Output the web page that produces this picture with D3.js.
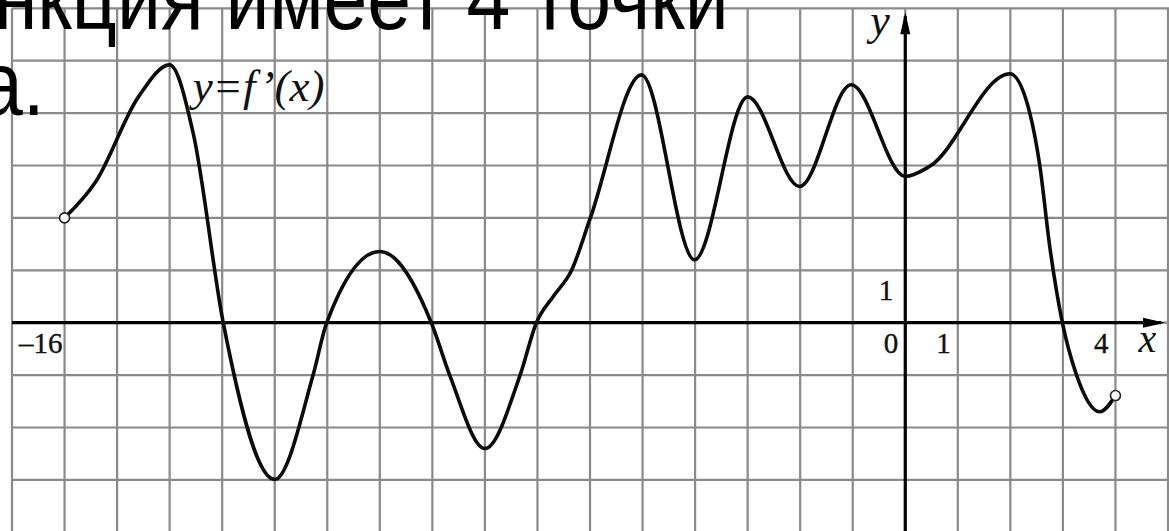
<!DOCTYPE html>
<html>
<head>
<meta charset="utf-8">
<script src="https://cdn.jsdelivr.net/npm/d3@7"></script>
<style>
html, body { margin: 0; padding: 0; background: #fff; overflow: hidden; }
</style>
</head>
<body>
<div id="chart"></div>
<script>
const width = 1169;
const height = 531;

// points of y = f'(x) (extrema, zeros, a few bends)
const xValues = [-16, -15.4, -14.6, -14, -13.55, -12.98, -12, -11.27, -11.01, -10,
	-9.02, -8.67, -8, -7.33, -7.02, -6.7, -6.35, -6, -5.02, -4.01,
	-3, -2.01, -1.03, 0, 0.46, 1.99, 2.37, 2.56, 2.75, 2.99,
	3.26, 3.7, 4];
const yValues = [2.0, 2.7, 4.3, 4.92, 3.61, 0, -2.99, -1.0, 0, 1.36,
	0, -1.0, -2.4, -1.0, 0, 0.5, 1.0, 1.98, 4.73, 1.2,
	4.31, 2.6, 4.54, 2.79, 2.98, 4.75, 4.0, 3.0, 1.45, 0,
	-1.0, -1.7, -1.39];
const openEnds = [0, xValues.length - 1];
const xTickLabels = [-16, 0, 1, 4];
const yTickLabels = [1];
const gridX = d3.range(-17, 6);
const gridY = d3.range(-4, 7);
const headingLines = ["нкция имеет 4 точки", "а."];

const x = d3.scaleLinear().domain([-17, 5]).range([12, 1168]);
const y = d3.scaleLinear().domain([6, -4]).range([8.3, 532.3]);

const svg = d3.select("#chart")
	.append("svg")
	.attr("width", width)
	.attr("height", height)
	.style("display", "block");

svg.append("rect")
	.attr("width", width)
	.attr("height", height)
	.attr("fill", "#fff");

// grid
const grid = svg.append("g").attr("class", "grid")
	.attr("stroke", "#8a8a8a")
	.attr("stroke-width", 2.2);

grid.selectAll(".vx")
	.data(gridX)
	.enter()
	.append("line")
	.attr("x1", d => x(d))
	.attr("x2", d => x(d))
	.attr("y1", y(6))
	.attr("y2", height);

grid.selectAll(".hy")
	.data(gridY)
	.enter()
	.append("line")
	.attr("y1", d => y(d))
	.attr("y2", d => y(d))
	.attr("x1", x(-17))
	.attr("x2", width);

// axes with arrow heads
const axes = svg.append("g").attr("class", "axes");
const xTip = x(5) - 3;
const yTip = y(6) + 4;

axes.append("line")
	.attr("x1", x(-17))
	.attr("x2", xTip - 4)
	.attr("y1", y(0))
	.attr("y2", y(0))
	.attr("stroke", "#000")
	.attr("stroke-width", 3.2);

axes.append("path")
	.attr("d", "M" + xTip + "," + y(0) + " L" + (xTip - 22) + "," + (y(0) - 5) +
		" L" + (xTip - 22) + "," + (y(0) + 5) + " Z")
	.attr("fill", "#000");

axes.append("line")
	.attr("x1", x(0))
	.attr("x2", x(0))
	.attr("y1", height)
	.attr("y2", yTip + 4)
	.attr("stroke", "#000")
	.attr("stroke-width", 3.2);

axes.append("path")
	.attr("d", "M" + x(0) + "," + yTip + " L" + (x(0) - 5) + "," + (yTip + 22) +
		" L" + (x(0) + 5) + "," + (yTip + 22) + " Z")
	.attr("fill", "#000");

// tick labels
const labels = svg.append("g")
	.attr("font-family", "'Liberation Serif', 'Times New Roman', serif")
	.attr("fill", "#111");

labels.selectAll(".xt")
	.data(xTickLabels)
	.enter()
	.append("text")
	.attr("x", d => x(d) - (d < 0 ? 2 : 7))
	.attr("y", y(0) + 30)
	.attr("text-anchor", "end")
	.attr("font-size", 29)
	.attr("stroke", "#111")
	.attr("stroke-width", 0.4)
	.text(d => d < 0 ? "–" + Math.abs(d) : d);

labels.selectAll(".yt")
	.data(yTickLabels)
	.enter()
	.append("text")
	.attr("x", x(0) - 12)
	.attr("y", d => y(d) + 30)
	.attr("text-anchor", "end")
	.attr("font-size", 29)
	.attr("stroke", "#111")
	.attr("stroke-width", 0.4)
	.text(d => d);

labels.append("text")
	.attr("x", x(0) - 35)
	.attr("y", y(6) + 27)
	.attr("font-size", 44)
	.attr("font-style", "italic")
	.text("y");

labels.append("text")
	.attr("x", x(4) + 23)
	.attr("y", y(0) + 29)
	.attr("font-size", 40)
	.attr("font-style", "italic")
	.text("x");

labels.append("text")
	.attr("x", x(-14) + 23)
	.attr("y", y(4) - 12)
	.attr("font-size", 45)
	.attr("font-style", "italic")
	.text("y=f’(x)");

// the curve
const points = xValues.map((v, i) => [v, yValues[i]]);

const line = d3.line()
	.x(d => x(d[0]))
	.y(d => y(d[1]))
	.curve(d3.curveMonotoneX);

svg.append("path")
	.datum(points)
	.attr("d", line)
	.attr("fill", "none")
	.attr("stroke", "#0a0a0a")
	.attr("stroke-width", 3.6)
	.attr("stroke-linejoin", "round");

svg.selectAll(".open")
	.data(openEnds)
	.enter()
	.append("circle")
	.attr("cx", i => x(points[i][0]))
	.attr("cy", i => y(points[i][1]))
	.attr("r", 5)
	.attr("fill", "#fff")
	.attr("stroke", "#222")
	.attr("stroke-width", 1.6);

// slide text lying over the picture
const heading = svg.append("g")
	.attr("font-family", "'Liberation Sans', Arial, sans-serif")
	.attr("font-size", 90)
	.attr("fill", "#000")
	.attr("transform", "scale(0.875,1)");

heading.append("text")
	.attr("x", -7)
	.attr("y", 29)
	.text(headingLines[0]);

heading.append("text")
	.attr("x", -24)
	.attr("y", 115)
	.text(headingLines[1]);
</script>
</body>
</html>
